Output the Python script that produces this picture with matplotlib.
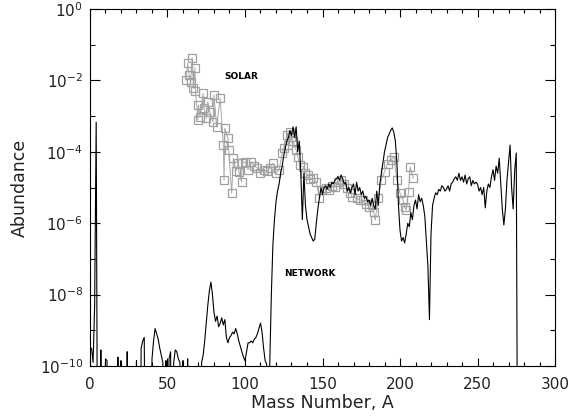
import numpy as np
import matplotlib
matplotlib.use("Agg")
import matplotlib.pyplot as plt
from matplotlib.ticker import FixedLocator, FixedFormatter

# network abundances, log10(Y) per mass number; -15 means nothing (below the axis)
net_A = np.arange(1, 277)
net_logY = [
  -9.5, -9.9, -8.3, -3.17, -15, -15, -9.55, -15, -15, -9.8,        # 1-10
  -9.85, -15, -15, -15, -15, -15, -15, -9.75, -15, -9.85,          # 11-20
  -15, -15, -15, -9.6, -15, -15, -15, -15, -15, -9.85,             # 21-30
  -15, -15, -9.5, -9.3, -9.2, -15, -15, -15, -15, -9.8,            # 31-40
  -9.3, -8.95, -9.1, -9.25, -9.5, -9.7, -9.9, -15, -9.85, -15,     # 41-50
  -9.8, -9.6, -15, -9.9, -9.55, -9.6, -9.8, -9.9, -15, -9.85,      # 51-60
  -15, -15, -9.8, -15, -15, -15, -15, -15, -15, -15,               # 61-70
  -15, -9.9, -9.7, -9.3, -8.8, -8.3, -7.9, -7.65, -8.0, -8.5,      # 71-80
  -8.75, -8.6, -8.9, -8.8, -8.65, -8.85, -8.7, -9.2, -9.35, -9.2,  # 81-90
  -9.15, -9.05, -9.1, -8.95, -9.1, -9.3, -9.45, -9.6, -9.75, -9.85,  # 91-100
  -9.6, -9.35, -9.35, -9.3, -9.35, -9.25, -9.2, -9.1, -8.95, -8.8,   # 101-110
  -9.05, -9.5, -9.85, -9.95, -15, -9.9, -8.0, -6.6, -5.9, -5.4,      # 111-120
  -5.1, -4.9, -4.6, -4.4, -4.1, -3.9, -3.7, -3.6, -3.4, -3.55,       # 121-130
  -3.3, -3.6, -3.3, -4.0, -3.7, -4.6, -5.9, -4.6, -5.5, -5.9,        # 131-140
  -6.1, -6.3, -6.4, -6.5, -6.45, -6.0, -5.6, -5.3, -5.0, -5.2,       # 141-150
  -5.0, -4.95, -5.05, -4.9, -5.0, -4.85, -4.9, -4.8, -4.75, -4.7,    # 151-160
  -4.8, -4.65, -4.75, -4.9, -4.85, -5.1, -5.0, -5.15, -5.0, -4.9,    # 161-170
  -5.2, -4.85, -5.1, -5.0, -5.2, -5.1, -5.3, -5.25, -5.4, -5.35,     # 171-180
  -5.5, -5.3, -5.5, -5.6, -5.1, -5.5, -4.9, -4.6, -4.3, -4.0,        # 181-190
  -3.8, -3.6, -3.5, -3.4, -3.33, -3.45, -3.7, -4.3, -5.5, -6.2,      # 191-200
  -6.5, -6.4, -6.55, -6.3, -6.0, -6.1, -5.7, -5.9, -5.5, -5.35,      # 201-210
  -5.6, -5.2, -5.4, -5.3, -5.5, -5.8, -6.5, -7.2, -8.7, -6.3,        # 211-220
  -5.5, -5.3, -5.15, -5.2, -5.05, -5.1, -4.95, -5.0, -5.1, -5.05,    # 221-230
  -4.95, -5.1, -4.9, -4.85, -4.75, -4.7, -4.8, -4.6, -4.8, -4.7,     # 231-240
  -4.85, -4.65, -4.9, -4.75, -4.7, -4.95, -4.8, -4.9, -4.85, -4.9,   # 241-250
  -5.1, -5.0, -5.2, -5.0, -5.57, -5.1, -4.9, -5.0, -4.7, -4.5,       # 251-260
  -4.8, -4.4, -4.6, -4.18, -4.9, -5.6, -6.05, -5.6, -4.8, -4.3,      # 261-270
  -3.81, -5.0, -5.6, -4.5, -4.03, -15,                               # 271-276
]

# solar abundances (A, log10 Y)
sol_A = [62, 63, 64, 65, 66, 66.7, 67.7, 68, 69.7, 70, 71, 73, 73.5, 75, 76, 77.4,
         79.4, 80, 81.7, 84, 86, 86.5, 87, 89, 89.5, 91.4, 92.5, 94, 95.7, 96,
         97.8, 98, 100, 102, 104, 106, 108, 110, 112, 114, 116, 118, 120, 122,
         124, 125, 127, 128, 129, 130, 131, 133, 134, 135.5, 137.6, 139, 140.8,
         142, 144, 146, 148, 149.5, 152, 154, 156, 158, 160, 162, 164, 166, 168,
         169, 172, 174, 176, 178, 180, 182, 183, 184, 186, 188, 190, 192, 194,
         196, 198, 200, 202, 203, 204, 205.5, 206.5, 208.5]
sol_logY = [-1.99, -1.52, -1.85, -2.04, -1.36, -2.22, -1.64, -2.3, -3.1, -2.69, -3.02,
            -2.36, -2.77, -3.06, -2.6, -2.88, -3.16, -2.41, -3.3, -2.5, -3.81, -4.79,
            -3.34, -3.62, -3.95, -5.16, -4.18, -4.55, -4.32, -4.56, -4.84, -4.32,
            -4.28, -4.5, -4.28, -4.4, -4.45, -4.6, -4.5, -4.55, -4.45, -4.32, -4.6,
            -4.5, -4.04, -3.9, -3.53, -3.81, -3.45, -3.58, -3.7, -3.95, -4.14, -4.37,
            -4.42, -4.6, -4.65, -4.75, -4.74, -4.84, -5.3, -5.07, -5.0, -5.07, -4.95,
            -4.98, -4.85, -4.79, -4.9, -5.02, -5.15, -5.26, -5.3, -5.35, -5.35, -5.45,
            -5.54, -5.5, -5.68, -5.91, -5.3, -4.79, -4.56, -4.35, -4.23, -4.14, -4.79,
            -5.16, -5.35, -5.54, -5.63, -5.12, -4.42, -4.74]

ytick_major = [1e0, 1e-2, 1e-4, 1e-6, 1e-8, 1e-10]
ytick_labels = ["$10^{0}$", "$10^{-2}$", "$10^{-4}$", "$10^{-6}$", "$10^{-8}$", "$10^{-10}$"]
ytick_minor = [1e-1, 1e-3, 1e-5, 1e-7, 1e-9]

fig = plt.figure(figsize=(5.71, 4.18), dpi=100)
ax = fig.add_axes([0.1576, 0.1244, 0.8144, 0.854])

ax.plot(sol_A, 10.0**np.array(sol_logY), color="#a8a8a8", lw=0.7,
        marker="s", ms=6, mfc="none", mec="#a0a0a0", mew=0.9, zorder=2)
ax.plot(net_A, 10.0**np.array(net_logY), color="black", lw=0.8, zorder=3)

ax.set_yscale("log")
ax.set_xlim(0, 300)
ax.set_ylim(1e-10, 1e0)

ax.xaxis.set_major_locator(FixedLocator([0, 50, 100, 150, 200, 250, 300]))
ax.xaxis.set_minor_locator(FixedLocator(np.arange(0, 301, 10)))
ax.yaxis.set_major_locator(FixedLocator(ytick_major))
ax.yaxis.set_major_formatter(FixedFormatter(ytick_labels))
ax.yaxis.set_minor_locator(FixedLocator(ytick_minor))
ax.yaxis.set_minor_formatter(FixedFormatter([""] * len(ytick_minor)))

ax.tick_params(axis="x", which="major", direction="in", top=True, length=5.5, width=0.8,
               labelsize=11, labelcolor="#222222", pad=8)
ax.tick_params(axis="x", which="minor", direction="in", top=True, length=2.8, width=0.8)
ax.tick_params(axis="y", which="major", direction="in", right=True, length=7.5, width=0.8,
               labelsize=11, labelcolor="#222222", pad=5)
ax.tick_params(axis="y", which="minor", direction="in", right=True, length=3.8, width=0.8)
for side in ["top", "bottom", "left", "right"]:
  ax.spines[side].set_linewidth(0.8)

ax.set_xlabel("Mass Number, A", fontsize=12.5, color="#222222", labelpad=1)
ax.set_ylabel("Abundance", fontsize=12.5, color="#222222", labelpad=8)

ax.text(87, 10**-1.9, "SOLAR", fontsize=6.5, fontweight="bold", va="center", ha="left")
ax.text(125, 10**-7.4, "NETWORK", fontsize=6.5, fontweight="bold", va="center", ha="left")

fig.savefig("out.png", dpi=100)
